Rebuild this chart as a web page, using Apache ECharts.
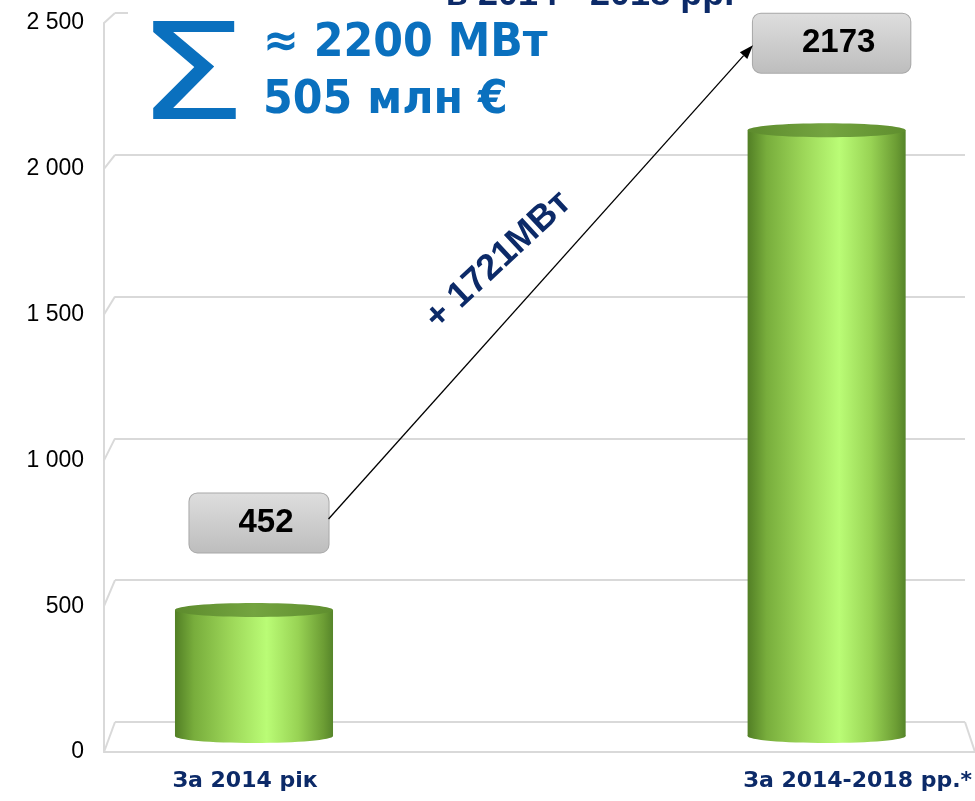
<!DOCTYPE html>
<html>
<head>
<meta charset="utf-8">
<script src="https://cdn.jsdelivr.net/npm/echarts@6/dist/echarts.min.js"></script>
<style>
  html, body { margin: 0; padding: 0; background: #fff; }
  #chart { width: 975px; height: 801px; }
</style>
</head>
<body>
<div id="chart"></div>
<script>
const categories = ['За 2014 рік', 'За 2014-2018 рр.*']
const capacity = [452, 2173]
const yTicks = [0, 500, 1000, 1500, 2000, 2500]
const titleText = 'в 2014 - 2018 рр.'
const totalLines = ['≈ 2200 МВт', '505 млн €']
const unit = 'МВт'

const navy = '#0c2a68'
const blue = '#0a70be'
const gridGrey = '#d9d9d9'
const boxFont = 'bold 33px Arial'
const BOX_PAD = [19, 35, 7, 49]
const BOX_LIFT = 87

const chart = echarts.init(document.getElementById('chart'))

const textWidth = (str, font) => {
  const ctx = textWidth.ctx || (textWidth.ctx = document.createElement('canvas').getContext('2d'))
  ctx.font = font
  return ctx.measureText(str).width
}

// label box sits above the cylinder top, centred on (cx, cy)
const boxGeom = (api, i, v) => {
  const top = api.coord([i, v])
  const tw = textWidth(String(v), boxFont)
  const w = tw + BOX_PAD[1] + BOX_PAD[3]
  const cx = top[0] + 5
  const cy = top[1] - BOX_LIFT
  return { cx, cy, w }
}

const bodyGradient = () => new echarts.graphic.LinearGradient(0, 0, 1, 0, [
  { offset: 0, color: '#527f25' },
  { offset: 0.12, color: '#78ad3c' },
  { offset: 0.35, color: '#9cd658' },
  { offset: 0.58, color: '#bafc76' },
  { offset: 0.78, color: '#98d354' },
  { offset: 0.94, color: '#6c9d34' },
  { offset: 1, color: '#56852a' }
])

const topGradient = () => new echarts.graphic.LinearGradient(0, 0, 1, 0, [
  { offset: 0, color: '#5d8b2d' },
  { offset: 0.5, color: '#74a440' },
  { offset: 1, color: '#5f8e2e' }
])

const boxGradient = () => new echarts.graphic.LinearGradient(0, 0, 0, 1, [
  { offset: 0, color: '#dedede' },
  { offset: 1, color: '#bdbdbd' }
])

const renderCylinder = (params, api) => {
  const i = api.value(0)
  const v = api.value(1)
  const top = api.coord([i, v])
  const base = api.coord([i, 0])
  const w = api.size([1, 0])[0] * 0.276
  const rx = w / 2
  const ry = 7
  const g = boxGeom(api, i, v)
  return {
    type: 'group',
    children: [
      { type: 'ellipse', shape: { cx: top[0], cy: base[1], rx, ry }, style: { fill: bodyGradient() } },
      { type: 'rect', shape: { x: top[0] - rx, y: top[1], width: w, height: base[1] - top[1] }, style: { fill: bodyGradient() } },
      { type: 'ellipse', shape: { cx: top[0], cy: top[1], rx, ry }, style: { fill: topGradient() } },
      {
        type: 'text',
        style: {
          text: String(v), x: g.cx, y: g.cy, font: boxFont, fill: '#000',
          align: 'center', verticalAlign: 'middle',
          backgroundColor: boxGradient(), borderColor: '#a8a8a8', borderWidth: 1,
          borderRadius: 8, padding: BOX_PAD
        }
      }
    ]
  }
}

const renderArrow = (params, api) => {
  const v0 = api.value(1)
  const v1 = api.value(3)
  const a = boxGeom(api, api.value(0), v0)
  const b = boxGeom(api, api.value(2), v1)
  const sx = a.cx + a.w / 2, sy = a.cy - 4
  const ex = b.cx - b.w / 2, ey = b.cy + 2
  const len = Math.hypot(ex - sx, ey - sy)
  const dx = (ex - sx) / len, dy = (ey - sy) / len
  const bx = ex - 14 * dx, by = ey - 14 * dy
  const mx = (sx + ex) / 2, my = (sy + ey) / 2
  return {
    type: 'group',
    children: [
      { type: 'line', shape: { x1: sx, y1: sy, x2: bx, y2: by }, style: { stroke: '#000', lineWidth: 1.3 } },
      {
        type: 'polygon',
        shape: { points: [[ex, ey], [bx - 5 * dy, by + 5 * dx], [bx + 5 * dy, by - 5 * dx]] },
        style: { fill: '#000' }
      },
      {
        type: 'text',
        x: mx + 46 * dy - 12 * dx,
        y: my - 46 * dx - 12 * dy,
        rotation: 43 * Math.PI / 180,
        style: {
          text: '+ ' + (v1 - v0) + unit, font: 'bold 36px Arial', fill: navy,
          align: 'center', verticalAlign: 'middle'
        }
      }
    ]
  }
}

const yMin = yTicks[0]
const yMax = yTicks[yTicks.length - 1]
const yStep = yTicks[1] - yTicks[0]
const catLabel = { fontFamily: 'DejaVu Sans', fontWeight: 'bold', fontSize: 22, color: navy }

const option = {
  animation: false,
  grid: [
    { left: 115, right: 10, top: 13, bottom: 79 },
    { left: 104, right: 0, top: 23, bottom: 49 },
    { left: 254, right: 148, top: 39, bottom: 65 }
  ],
  xAxis: [
    { gridIndex: 0, type: 'category', data: categories, show: false },
    {
      gridIndex: 1, type: 'category', data: categories,
      axisLine: { lineStyle: { color: gridGrey, width: 2 } },
      axisTick: { show: false }, axisLabel: { show: false }
    },
    {
      gridIndex: 2, type: 'category', data: categories, boundaryGap: false,
      axisLine: { show: false }, axisTick: { show: false },
      axisLabel: {
        interval: 0, margin: 34,
        formatter: (v, i) => (i === 0 ? '{a|' + v + '}' : '{b|' + v + '}'),
        rich: {
          a: Object.assign({ padding: [0, 18, 0, 0] }, catLabel),
          b: Object.assign({ padding: [0, 0, 0, 62] }, catLabel)
        }
      }
    }
  ],
  yAxis: [
    {
      gridIndex: 0, type: 'value', min: yMin, max: yMax, interval: yStep,
      axisLabel: { show: false }, axisLine: { show: false }, axisTick: { show: false },
      splitLine: { lineStyle: { color: gridGrey, width: 2 } }
    },
    {
      gridIndex: 1, type: 'value', min: yMin, max: yMax, interval: yStep,
      axisLine: { show: true, lineStyle: { color: gridGrey, width: 2 } },
      axisTick: { show: false }, splitLine: { show: false },
      axisLabel: {
        color: '#000', fontSize: 23, fontFamily: 'Liberation Sans', margin: 20,
        formatter: v => String(v).replace(/\B(?=(\d{3})+(?!\d))/g, ' ')
      }
    },
    { gridIndex: 2, type: 'value', min: yMin, max: yMax, show: false }
  ],
  graphic: [
    { type: 'rect', id: 'cover', shape: { x: 128, y: 0, width: 847, height: 19 }, style: { fill: '#fff' }, z: 1 },
    {
      type: 'text', id: 'title', x: 590, y: -5, z: 10,
      style: { text: titleText, font: 'bold 36px Arial', fill: navy, align: 'center', verticalAlign: 'middle' }
    },
    {
      type: 'text', id: 'sigma', x: 136, y: 84, scaleX: 1.32, z: 10,
      style: { text: 'Σ', font: '133px "DejaVu Sans"', fill: blue, align: 'left', verticalAlign: 'middle' }
    },
    {
      type: 'text', id: 'total1', x: 263, y: 44, scaleX: 0.91, z: 10,
      style: { text: totalLines[0], font: 'bold 47px "DejaVu Sans"', fill: blue, align: 'left', verticalAlign: 'middle' }
    },
    {
      type: 'text', id: 'total2', x: 263, y: 101, scaleX: 0.91, z: 10,
      style: { text: totalLines[1], font: 'bold 47px "DejaVu Sans"', fill: blue, align: 'left', verticalAlign: 'middle' }
    }
  ],
  series: [
    {
      type: 'custom', xAxisIndex: 2, yAxisIndex: 2, z: 5,
      data: capacity.map((v, i) => [i, v]),
      encode: { x: 0, y: 1 },
      renderItem: renderCylinder
    },
    {
      type: 'custom', xAxisIndex: 2, yAxisIndex: 2, z: 6,
      data: [[0, capacity[0], 1, capacity[1]]],
      encode: { x: [0, 2], y: [1, 3] },
      renderItem: renderArrow
    }
  ]
}

chart.setOption(option)

// slanted wall edges joining the back grid lines to the front axis
const drawFrame = () => {
  const back = chart.getModel().getComponent('grid', 0).coordinateSystem.getRect()
  const front = chart.getModel().getComponent('grid', 1).coordinateSystem.getRect()
  const edges = yTicks.map((v, k) => ({
    type: 'line', id: 'edge' + k, z: 1,
    shape: {
      x1: front.x, y1: chart.convertToPixel({ gridIndex: 1 }, [0, v])[1],
      x2: back.x, y2: chart.convertToPixel({ gridIndex: 0 }, [0, v])[1]
    },
    style: { stroke: gridGrey, lineWidth: 2 }
  }))
  edges.push({
    type: 'line', id: 'edgeRight', z: 1,
    shape: { x1: back.x + back.width, y1: back.y + back.height, x2: front.x + front.width, y2: front.y + front.height },
    style: { stroke: gridGrey, lineWidth: 2 }
  })
  chart.setOption({ graphic: edges })
}
drawFrame()
</script>
</body>
</html>
